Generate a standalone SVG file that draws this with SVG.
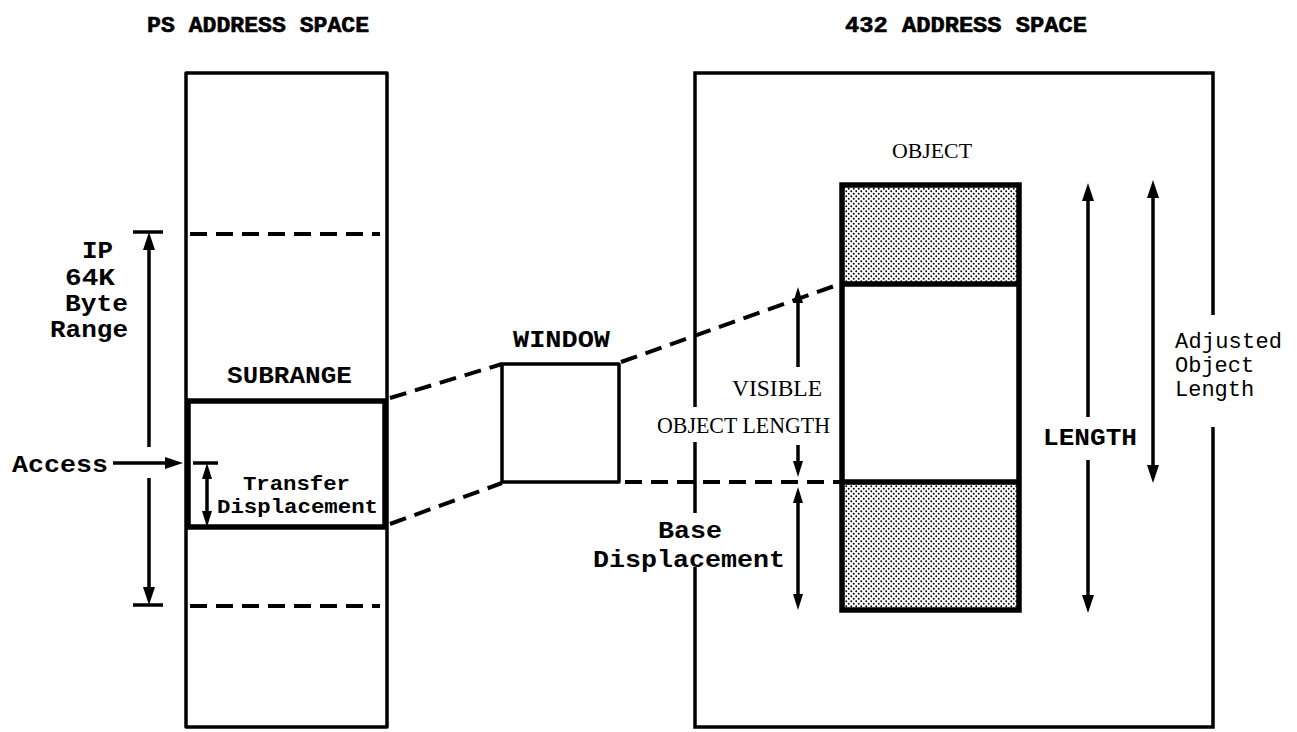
<svg xmlns="http://www.w3.org/2000/svg" width="1297" height="732" viewBox="0 0 1297 732">
<style>
.box{fill:none;stroke:#000;stroke-width:3.5;stroke-linejoin:round}
.thick{fill:none;stroke:#000;stroke-width:5.5}
.ln{stroke:#000;stroke-width:3.5;fill:none}
.dash{stroke:#000;stroke-width:4;fill:none;stroke-dasharray:17 9}
.mb{font-family:"Liberation Mono","DejaVu Sans Mono",monospace;font-weight:bold;fill:#000}
.ttl{font-family:"Liberation Mono","DejaVu Sans Mono",monospace;font-weight:bold;fill:#000;stroke:#000;stroke-width:0.6}
.mn{font-family:"Liberation Mono","DejaVu Sans Mono",monospace;fill:#000}
.sr{font-family:"Liberation Serif","DejaVu Serif",serif;fill:#000}
</style>
<defs>
<pattern id="dots" width="5" height="5" patternUnits="userSpaceOnUse">
<rect width="5" height="5" fill="#fff"/>
<circle cx="1.25" cy="1.25" r="0.95" fill="#000"/>
<circle cx="3.75" cy="3.75" r="0.95" fill="#000"/>
</pattern>
<marker id="ah" viewBox="0 0 18 12" markerWidth="18" markerHeight="12" refX="10" refY="6" orient="auto-start-reverse" markerUnits="userSpaceOnUse">
<path d="M0,0 L18,6 L0,12 z" fill="#000"/>
</marker>
<marker id="as" viewBox="0 0 16 10" markerWidth="16" markerHeight="10" refX="8" refY="5" orient="auto-start-reverse" markerUnits="userSpaceOnUse">
<path d="M0,0 L16,5 L0,10 z" fill="#000"/>
</marker>
</defs>
<rect width="1297" height="732" fill="#fff"/>

<g id="titles">
<text class="ttl" x="147" y="32" font-size="22" textLength="222" lengthAdjust="spacingAndGlyphs">PS ADDRESS SPACE</text>
<text class="ttl" x="845" y="32" font-size="22" textLength="242" lengthAdjust="spacingAndGlyphs">432 ADDRESS SPACE</text>
</g>

<g id="ps-space">
<path class="box" d="M186,727 L186,73 L387,73 L387,727 Z"/>
<text class="mb" x="82" y="258" font-size="23" textLength="31" lengthAdjust="spacingAndGlyphs">IP</text>
<text class="mb" x="65" y="285" font-size="23" textLength="50" lengthAdjust="spacingAndGlyphs">64K</text>
<text class="mb" x="65" y="311" font-size="23" textLength="63" lengthAdjust="spacingAndGlyphs">Byte</text>
<text class="mb" x="50" y="337" font-size="23" textLength="78" lengthAdjust="spacingAndGlyphs">Range</text>
<text class="mb" x="12" y="472" font-size="24" textLength="96" lengthAdjust="spacingAndGlyphs">Access</text>
</g>

<g id="subrange">
<rect class="thick" x="188" y="401" width="197" height="126"/>
<text class="mb" x="227" y="383" font-size="24" textLength="125" lengthAdjust="spacingAndGlyphs">SUBRANGE</text>
<text class="mb" x="243" y="490" font-size="21" textLength="107" lengthAdjust="spacingAndGlyphs">Transfer</text>
<text class="mb" x="217" y="513" font-size="21" textLength="161" lengthAdjust="spacingAndGlyphs">Displacement</text>
</g>

<g id="window">
<rect class="box" x="502" y="364" width="117" height="118"/>
<text class="mb" x="513" y="347" font-size="24" textLength="97" lengthAdjust="spacingAndGlyphs">WINDOW</text>
</g>

<g id="space-432">
<path class="ln" d="M695,407 L695,73 L1213,73 L1213,315"/>
<path class="ln" d="M695,442 L695,513"/>
<path class="ln" d="M695,567 L695,727 L1213,727 L1213,427"/>
<text class="sr" x="732" y="396" font-size="24" textLength="90" lengthAdjust="spacingAndGlyphs">VISIBLE</text>
<text class="sr" x="657" y="433" font-size="24" textLength="173" lengthAdjust="spacingAndGlyphs">OBJECT LENGTH</text>
<text class="mb" x="658" y="538" font-size="24" textLength="64" lengthAdjust="spacingAndGlyphs">Base</text>
<text class="mb" x="593" y="567" font-size="24" textLength="192" lengthAdjust="spacingAndGlyphs">Displacement</text>
<text class="mb" x="1043" y="445" font-size="24" textLength="94" lengthAdjust="spacingAndGlyphs">LENGTH</text>
<text class="mn" x="1175" y="348" font-size="22" textLength="107">Adjusted</text>
<text class="mn" x="1175" y="372" font-size="22">Object</text>
<text class="mn" x="1175" y="396" font-size="22">Length</text>
</g>

<g id="object">
<rect x="842" y="185" width="177" height="98" fill="url(#dots)"/>
<rect x="842" y="483" width="177" height="127" fill="url(#dots)"/>
<rect class="thick" x="842" y="185" width="177" height="425"/>
<line class="thick" x1="842" y1="284" x2="1019" y2="284"/>
<line class="thick" x1="842" y1="482" x2="1019" y2="482"/>
<text class="sr" x="892" y="158" font-size="21" textLength="80" lengthAdjust="spacingAndGlyphs">OBJECT</text>
</g>

<g id="connectors">
<line class="dash" x1="190" y1="234" x2="380" y2="234"/>
<line class="dash" x1="190" y1="606" x2="380" y2="606"/>
<line class="dash" x1="390" y1="398" x2="502" y2="364"/>
<line class="dash" x1="390" y1="524" x2="502" y2="483"/>
<line class="dash" x1="621" y1="362" x2="840" y2="284"/>
<line class="dash" x1="625" y1="482" x2="840" y2="482"/>
<line class="ln" x1="133" y1="232" x2="163" y2="232" stroke-width="4"/>
<line class="ln" x1="133" y1="605" x2="163" y2="605" stroke-width="4"/>
<line class="ln" x1="149" y1="240" x2="149" y2="447" marker-start="url(#ah)"/>
<line class="ln" x1="149" y1="478" x2="149" y2="597" marker-end="url(#ah)"/>
<line class="ln" x1="113" y1="463" x2="175" y2="463" marker-end="url(#ah)"/>
<line class="ln" x1="193" y1="463" x2="218" y2="463" stroke-width="4"/>
<line class="ln" x1="207" y1="471" x2="207" y2="519" marker-start="url(#as)" marker-end="url(#as)"/>
<line class="ln" x1="798" y1="367" x2="798" y2="295" marker-end="url(#as)"/>
<line class="ln" x1="798" y1="445" x2="798" y2="469" marker-end="url(#as)"/>
<line class="ln" x1="798" y1="495" x2="798" y2="602" marker-start="url(#as)" marker-end="url(#as)"/>
<line class="ln" x1="1088" y1="417" x2="1088" y2="191" marker-end="url(#ah)"/>
<line class="ln" x1="1088" y1="460" x2="1088" y2="605" marker-end="url(#ah)"/>
<line class="ln" x1="1153" y1="188" x2="1153" y2="475" marker-start="url(#ah)" marker-end="url(#ah)"/>
</g>
</svg>
